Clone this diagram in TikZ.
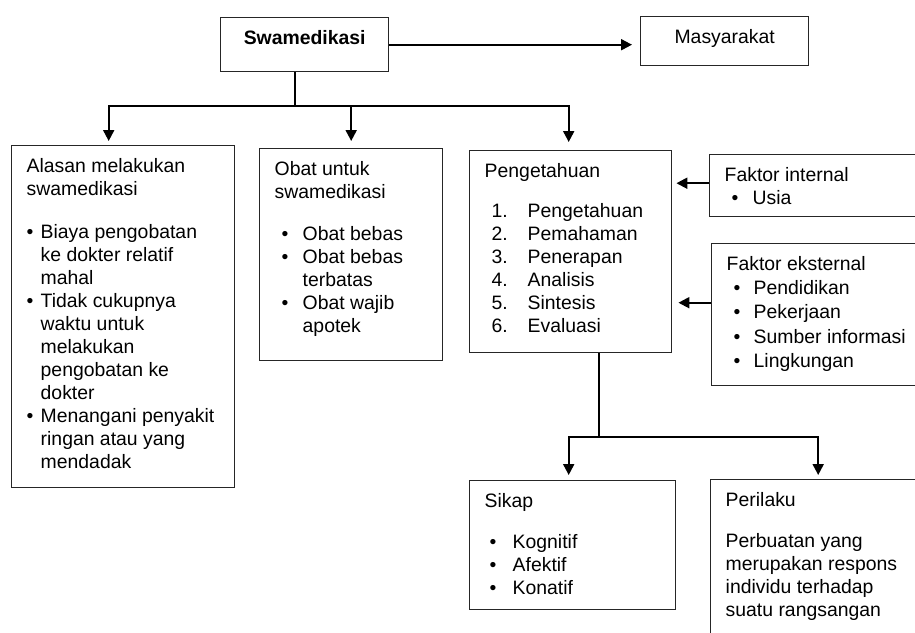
\documentclass[tikz,border=0pt]{standalone}
\usepackage{fontspec}
\setmainfont{Liberation Sans}
\usetikzlibrary{arrows.meta}

\newcommand{\boxtext}[3]{\parbox[c][#2][t]{#1}{\vspace*{12.5pt}\rule{0pt}{14pt}\ignorespaces#3}}
\newcommand{\lbl}[3]{\par\noindent\hangindent=#2\hangafter=1\makebox[#2][l]{\hspace*{#1}#3}\ignorespaces}

\begin{document}
\begin{tikzpicture}[x=1pt,y=-1pt,
  box/.style={draw=black!85,line width=1.4pt,anchor=north west,inner xsep=15pt,inner ysep=0pt,
    font=\fontsize{19.4}{23}\selectfont},
  line/.style={line width=2pt},
  arr/.style={line,-{Triangle[width=11pt,length=11pt]}}]
\useasboundingbox (0,0) rectangle (915,632);

\node[box] (swa) at (220,17) {\boxtext{138pt}{54pt}{\centering\bfseries Swamedikasi}};
\node[box] (masy) at (640,16) {\boxtext{138pt}{49pt}{\centering Masyarakat}};

\node[box] (alasan) at (11,145) {\boxtext{193pt}{342pt}{Alasan melakukan\\ swamedikasi\par\vspace{20pt}
  \lbl{0pt}{14pt}{\textbullet}Biaya pengobatan\\ ke dokter relatif\\ mahal
  \lbl{0pt}{14pt}{\textbullet}Tidak cukupnya\\ waktu untuk\\ melakukan\\ pengobatan ke\\ dokter
  \lbl{0pt}{14pt}{\textbullet}Menangani penyakit\\ ringan atau yang\\ mendadak}};

\node[box] (obat) at (259,148) {\boxtext{153pt}{212pt}{Obat untuk\\ swamedikasi\par\vspace{19pt}
  \lbl{7pt}{28pt}{\textbullet}Obat bebas
  \lbl{7pt}{28pt}{\textbullet}Obat bebas\\ terbatas
  \lbl{7pt}{28pt}{\textbullet}Obat wajib\\ apotek}};

\node[box] (peng) at (469,150) {\boxtext{172pt}{202pt}{Pengetahuan\par\vspace{17pt}
  \lbl{7pt}{43pt}{1.}Pengetahuan
  \lbl{7pt}{43pt}{2.}Pemahaman
  \lbl{7pt}{43pt}{3.}Penerapan
  \lbl{7pt}{43pt}{4.}Analisis
  \lbl{7pt}{43pt}{5.}Sintesis
  \lbl{7pt}{43pt}{6.}Evaluasi}};

\node[box] (fint) at (709,154) {\boxtext{186pt}{62pt}{Faktor internal
  \lbl{7pt}{28pt}{\textbullet}Usia}};

\node[box,font=\fontsize{19.4}{24.3}\selectfont] (fext) at (711,243) {\boxtext{184pt}{142pt}{Faktor eksternal
  \lbl{7pt}{27pt}{\textbullet}Pendidikan
  \lbl{7pt}{27pt}{\textbullet}Pekerjaan
  \lbl{7pt}{27pt}{\textbullet}Sumber informasi
  \lbl{7pt}{27pt}{\textbullet}Lingkungan}};

\node[box] (sikap) at (469,480) {\boxtext{176pt}{129pt}{Sikap\par\vspace{18pt}
  \lbl{5pt}{28pt}{\textbullet}Kognitif
  \lbl{5pt}{28pt}{\textbullet}Afektif
  \lbl{5pt}{28pt}{\textbullet}Konatif}};

\node[box] (peril) at (710,479) {\boxtext{185pt}{170pt}{Perilaku\par\vspace{18pt}
  Perbuatan yang\\ merupakan respons\\ individu terhadap\\ suatu rangsangan}};

% swamedikasi
\draw[arr,shorten >=8pt] (swa.east) -- (swa.east -| masy.west);
\coordinate (hub) at (295,106);
\draw[line] (hub |- swa.south) -- (hub);
\draw[arr,shorten >=4pt] (hub) -| ([xshift=-14.5pt]alasan.north);
\draw[arr,shorten >=7pt] (hub) -| (obat.north);
\draw[arr,shorten >=8pt] (hub) -| ([xshift=-2pt]peng.north);

% faktor
\coordinate (fin) at ([yshift=2.5pt]fint.west);
\coordinate (fex) at ([yshift=12pt]fext.west);
\draw[arr,shorten >=4pt] (fin) -- (fin -| peng.east);
\draw[arr,shorten >=6pt] (fex) -- (fex -| peng.east);

% pengetahuan
\coordinate (split) at (599,437);
\draw[line] (split |- peng.south) -- (split);
\draw[arr,shorten >=5pt] (split) -| ([xshift=-4pt]sikap.north);
\draw[arr,shorten >=4pt] (split) -| (peril.north);
\end{tikzpicture}
\end{document}
